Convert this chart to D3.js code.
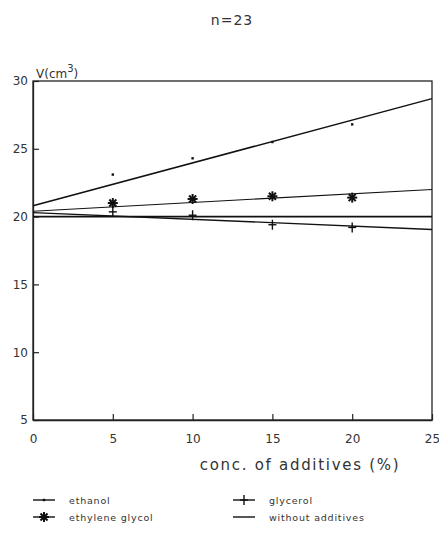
<!DOCTYPE html>
<html>
<head>
<meta charset="utf-8">
<script src="https://cdn.jsdelivr.net/npm/d3@7"></script>
<style>
  body { margin: 0; background: #fff; }
  svg { display: block; }
  text { font-family: "DejaVu Sans", sans-serif; fill: #333; }
</style>
</head>
<body>
<script>
// values
var conc = [5, 10, 15, 20];
var ethanol = [23.1, 24.3, 25.5, 26.8];
var ethyleneGlycol = [21.0, 21.3, 21.5, 21.4];
var glycerol = [20.35, 20.1, 19.4, 19.2];
// fitted lines, value at conc 0 and 25
var fitX = [0, 25];
var ethanolFit = [20.8, 28.7];
var ethyleneFit = [20.4, 22.0];
var glycerolFit = [20.3, 19.05];
var withoutFit = [20.0, 20.0];
var xTicks = [0, 5, 10, 15, 20, 25];
var yTicks = [5, 10, 15, 20, 25, 30];

var width = 439, height = 533;
var x = d3.scaleLinear().domain([0, 25]).range([33, 432]);
var y = d3.scaleLinear().domain([5, 30]).range([420, 81]);

var svg = d3.select('body').append('svg')
    .attr('width', width)
    .attr('height', height);

// title
svg.append('text')
    .attr('x', 232).attr('y', 25)
    .attr('text-anchor', 'middle')
    .style('font-size', '14px')
    .style('letter-spacing', '1px')
    .text('n=23');

// frame
svg.append('rect')
    .attr('x', x(0)).attr('y', y(30))
    .attr('width', x(25) - x(0)).attr('height', y(5) - y(30))
    .attr('fill', 'none').attr('stroke', '#222').attr('stroke-width', 1.3);

// axes, ticks inside
var xAxis = d3.axisBottom(x).tickValues(xTicks).tickSizeInner(-6).tickSizeOuter(0).tickPadding(14);
var gx = svg.append('g').attr('transform', 'translate(0,' + y(5) + ')').call(xAxis);
var yAxis = d3.axisLeft(y).tickValues(yTicks).tickSizeInner(-6).tickSizeOuter(0).tickPadding(5);
var gy = svg.append('g').attr('transform', 'translate(' + x(0) + ',0)').call(yAxis);
[gx, gy].forEach(function (g) {
    g.select('.domain').attr('stroke', '#222').attr('stroke-width', 1.3);
    g.selectAll('.tick line').attr('stroke', '#222').attr('stroke-width', 1.2);
    g.selectAll('.tick text').style('font-size', '12px').style('font-family', '"DejaVu Sans", sans-serif').attr('fill', '#333');
});

// axis labels
var yl = svg.append('text').attr('x', 36).attr('y', 78).style('font-size', '12px');
yl.append('tspan').text('V(cm');
yl.append('tspan').attr('dy', -6).style('font-size', '10px').text('3');
yl.append('tspan').attr('dy', 6).text(')');

svg.append('text')
    .attr('x', 300).attr('y', 470)
    .attr('text-anchor', 'middle')
    .style('font-size', '15px')
    .style('letter-spacing', '1.7px')
    .text('conc. of additives (%)');

// fitted lines
var line = d3.line().x(function (d) { return x(d[0]); }).y(function (d) { return y(d[1]); });
function fit(vals, w) {
    svg.append('path')
        .datum(fitX.map(function (c, i) { return [c, vals[i]]; }))
        .attr('d', line)
        .attr('fill', 'none').attr('stroke', '#111').attr('stroke-width', w);
}
fit(withoutFit, 1.6);
fit(glycerolFit, 1.3);
fit(ethyleneFit, 1.1);
fit(ethanolFit, 1.5);

// marker drawing
function dot(g, cx, cy) {
    g.append('rect').attr('x', cx - 1.2).attr('y', cy - 1.2).attr('width', 2.4).attr('height', 2.4).attr('fill', '#111');
}
function star(g, cx, cy) {
    var r = 5;
    [0, 45, 90, 135].forEach(function (a) {
        var t = a * Math.PI / 180;
        g.append('line')
            .attr('x1', cx - r * Math.cos(t)).attr('y1', cy - r * Math.sin(t))
            .attr('x2', cx + r * Math.cos(t)).attr('y2', cy + r * Math.sin(t))
            .attr('stroke', '#111').attr('stroke-width', 2);
    });
}
function plus(g, cx, cy) {
    g.append('line').attr('x1', cx - 4).attr('x2', cx + 4).attr('y1', cy).attr('y2', cy)
        .attr('stroke', '#111').attr('stroke-width', 1.4);
    g.append('line').attr('x1', cx).attr('x2', cx).attr('y1', cy - 5).attr('y2', cy + 5)
        .attr('stroke', '#111').attr('stroke-width', 1.4);
}

var pts = svg.append('g');
conc.forEach(function (c, i) {
    dot(pts, x(c), y(ethanol[i]));
    star(pts, x(c), y(ethyleneGlycol[i]));
    plus(pts, x(c), y(glycerol[i]));
});

// legend
var legendItems = [
    { label: 'ethanol', mark: dot, lx: 33, ly: 500 },
    { label: 'ethylene glycol', mark: star, lx: 33, ly: 517 },
    { label: 'glycerol', mark: plus, lx: 233, ly: 500 },
    { label: 'without additives', mark: null, lx: 233, ly: 517 }
];
var lg = svg.append('g');
legendItems.forEach(function (d) {
    lg.append('line')
        .attr('x1', d.lx).attr('x2', d.lx + 22).attr('y1', d.ly).attr('y2', d.ly)
        .attr('stroke', '#111').attr('stroke-width', 1.4);
    if (d.mark) d.mark(lg, d.lx + 11, d.ly);
    lg.append('text')
        .attr('x', d.lx + 36).attr('y', d.ly + 3.5)
        .style('font-size', '9.5px')
        .style('letter-spacing', '0.8px')
        .text(d.label);
});
</script>
</body>
</html>
